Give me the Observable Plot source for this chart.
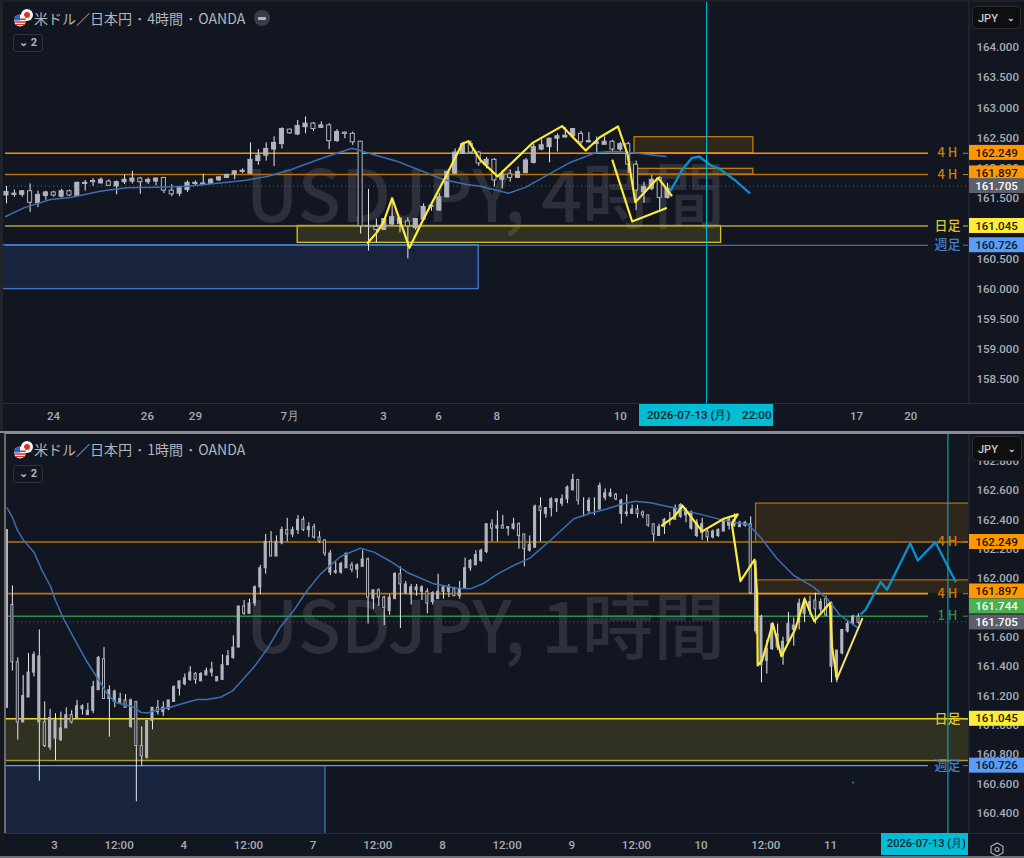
<!DOCTYPE html>
<html><head><meta charset="utf-8">
<script src="https://cdn.jsdelivr.net/npm/d3@7"></script>
<script src="https://cdn.jsdelivr.net/npm/@observablehq/plot@0.6"></script>
<style>
html,body{margin:0;padding:0;background:#121621;}
#page{position:relative;width:1024px;height:858px;overflow:hidden;background:#121621;font-family:"Noto Sans CJK JP",Roboto,sans-serif;}
#page>div{position:absolute;}
.pane{left:0;}
.pane svg{display:block;}
.title{left:34px;color:#b2b5be;font-size:14px;line-height:18px;white-space:nowrap;word-spacing:1px;}
.minus{left:254px;width:16px;height:16px;border-radius:8px;background:#3a3d47;}
.minus i{position:absolute;left:4px;top:6.5px;width:8px;height:3px;border-radius:1px;background:#b2b5be;}
.count{left:13px;width:28px;height:16px;border:1px solid #2e323c;border-radius:3px;color:#b2b5be;font:bold 11px/16px Roboto;text-align:center;}
.ccy{background:#0f0f0f;border:1px solid #2a2d33;border-radius:4px;color:#c8cad0;font:500 11px Roboto;box-sizing:border-box;}
.ccy span{position:absolute;left:5px;top:50%;transform:translateY(-50%);}
.ccy b{position:absolute;right:5px;top:50%;transform:translateY(-55%);font:bold 9px Roboto;}
.stamp{background:#00bcd4;color:#10242c;font:500 11.6px/22px Roboto;white-space:nowrap;}
</style></head><body><div id="page"></div>
<script>
// ---- 4-hour pane: [open, high, low, close]; close below open is drawn hollow
const candles4h = [
[161.55,161.70,161.41,161.61],[161.56,161.64,161.52,161.58],[161.56,161.63,161.52,161.62],[161.62,161.74,161.27,161.43],
[161.42,161.62,161.35,161.56],[161.54,161.62,161.47,161.60],[161.60,161.62,161.52,161.55],[161.53,161.65,161.51,161.62],
[161.62,161.64,161.53,161.55],[161.54,161.77,161.53,161.76],[161.74,161.80,161.62,161.76],[161.77,161.83,161.70,161.79],
[161.75,161.84,161.74,161.81],[161.78,161.81,161.70,161.71],[161.70,161.79,161.56,161.77],[161.77,161.89,161.73,161.81],
[161.78,161.95,161.74,161.83],[161.83,161.85,161.57,161.77],[161.77,161.84,161.73,161.81],[161.78,161.84,161.71,161.83],
[161.84,161.85,161.58,161.63],[161.63,161.73,161.53,161.57],[161.58,161.70,161.53,161.67],[161.64,161.79,161.60,161.76],
[161.74,161.79,161.71,161.76],[161.73,161.90,161.71,161.75],[161.74,161.83,161.73,161.81],[161.80,161.86,161.78,161.85],
[161.84,161.90,161.83,161.89],[161.90,161.96,161.81,161.95],[161.94,161.99,161.91,161.96],[161.91,162.42,161.90,162.14],
[162.12,162.31,162.05,162.21],[162.21,162.42,162.12,162.32],[162.31,162.52,162.03,162.42],[162.40,162.67,162.32,162.65],
[162.64,162.65,162.56,162.58],[162.56,162.79,162.54,162.70],[162.68,162.85,162.57,162.74],[162.74,162.76,162.61,162.65],
[162.67,162.77,162.66,162.71],[162.71,162.74,162.31,162.45],[162.45,162.64,162.43,162.60],[162.59,162.60,162.49,162.57],
[162.57,162.60,162.38,162.43],[162.44,162.44,160.91,161.04],[161.04,161.65,160.63,161.03],[161.03,161.16,160.76,160.98],
[160.98,161.16,160.97,161.16],[161.07,161.49,161.05,161.19],[161.08,161.17,160.93,161.17],[161.12,161.18,160.50,161.04],
[161.01,161.16,160.97,161.16],[161.15,161.41,161.12,161.36],[161.36,161.42,161.29,161.38],[161.30,161.58,161.29,161.52],
[161.52,161.95,161.51,161.94],[161.91,162.32,161.90,162.26],[162.24,162.43,162.23,162.40],[162.40,162.45,162.24,162.26],
[162.26,162.28,162.03,162.08],[162.05,162.18,161.99,162.14],[162.14,162.16,161.69,161.80],[161.81,161.96,161.66,161.90],
[161.90,161.97,161.77,161.84],[161.84,162.02,161.83,161.94],[161.92,162.16,161.91,162.13],[162.09,162.40,162.07,162.35],
[162.31,162.47,162.29,162.38],[162.35,162.50,162.09,162.49],[162.49,162.57,162.27,162.53],[162.51,162.67,162.50,162.54],
[162.53,162.66,162.51,162.65],[162.57,162.61,162.35,162.43],[162.43,162.59,162.42,162.45],[162.40,162.52,162.26,162.43],
[162.39,162.52,162.38,162.44],[162.44,162.46,162.27,162.31],[162.31,162.43,162.28,162.40],[162.40,162.43,161.91,162.06],
[162.06,162.12,161.30,161.63],[161.60,161.77,161.42,161.69],[161.66,161.88,161.63,161.81],[161.84,161.86,161.30,161.51],
[161.51,161.75,161.49,161.66]];
// [bar, price]
const ema4h = [[-0.1,161.202],[2.2,161.345],[5.6,161.483],[8.3,161.522],[11.9,161.621],[15.3,161.677],[19.1,161.688],[23,161.704],[26.8,161.754],[30.2,161.798],[33.1,161.864],[36.1,161.975],[39.9,162.157],[43.9,162.333],[45.8,162.256],[49.6,162.118],[52.6,161.963],[55.6,161.809],[58.5,161.732],[60.2,161.704],[63.8,161.588],[66,161.688],[69,161.908],[71.7,162.101],[74.8,162.256],[77,162.284],[79.6,162.256],[83.8,162.195]];
const drawn4hA = [[45.9,160.766],[47.1,160.943],[47.9,161.108],[49,161.505],[51.2,160.683],[53,161.163],[56,161.908],[57.9,162.405],[58.7,162.449],[60.2,162.14],[62.4,161.864],[66.8,162.416],[70.6,162.698],[73.6,162.295],[75.4,162.515],[77.7,162.692],[78.9,162.239],[79.9,161.439],[82.8,161.842],[84.5,161.55]];
const drawn4hB = [[77,162.129],[79.5,161.119],[83.8,161.34]];
const forecast4h = [[84.4,161.632],[85.8,161.963],[87.1,162.173],[88,162.195],[89.5,162.046],[90.6,161.991],[92.6,161.798],[94.4,161.594]];
const ticksX4h = [5.97,17.9,24,36,47.9,54.9,62.3,78,108,114.9];
const labelsX4h = ["24","26","29","7月","3","6","8","10","17","20"];
const ticksY4h = [158.5,159,159.5,160,160.5,161,161.5,162,162.5,163,163.5,164];

// ---- 1-hour pane
const candles1h = [
[161.12,162.33,161.12,162.33],[161.82,161.95,161.37,161.43],[161.43,161.46,160.90,161.02],[161.02,161.34,161.02,161.20],
[161.19,161.49,161.19,161.36],[161.36,161.50,161.33,161.48],[161.02,161.65,160.62,161.47],[161.02,161.16,160.85,160.86],
[160.85,161.11,160.83,161.05],[160.91,161.08,160.76,161.03],[160.90,161.09,160.89,160.98],[160.98,161.12,160.98,161.07],
[161.07,161.10,161.01,161.02],[161.05,161.17,161.05,161.13],[161.11,161.14,161.07,161.13],[161.07,161.15,161.07,161.10],
[161.10,161.30,161.08,161.26],[161.24,161.47,161.24,161.46],[161.45,161.53,161.18,161.18],[161.18,161.27,160.92,161.24],
[161.16,161.24,161.12,161.23],[161.15,161.22,161.14,161.18],[161.17,161.21,161.12,161.12],[160.99,161.18,160.98,161.17],
[161.16,161.16,160.48,160.86],[160.86,160.99,160.72,160.79],[160.78,161.03,160.77,161.03],[161.03,161.12,160.97,161.12],
[161.12,161.17,161.07,161.09],[161.09,161.16,161.06,161.12],[161.11,161.17,161.10,161.17],[161.16,161.27,161.16,161.26],
[161.25,161.30,161.20,161.30],[161.28,161.35,161.27,161.32],[161.31,161.40,161.30,161.36],[161.35,161.36,161.28,161.31],
[161.30,161.36,161.30,161.35],[161.34,161.39,161.34,161.37],[161.36,161.43,161.33,161.38],[161.30,161.33,161.30,161.33],
[161.31,161.48,161.31,161.41],[161.41,161.51,161.41,161.47],[161.46,161.61,161.45,161.53],[161.53,161.81,161.53,161.81],
[161.81,161.85,161.75,161.76],[161.76,161.86,161.76,161.83],[161.83,161.95,161.81,161.94],[161.94,162.09,161.89,162.07],
[162.07,162.30,162.03,162.25],[162.25,162.32,162.15,162.15],[162.15,162.29,162.15,162.25],[162.24,162.35,162.23,162.33],
[162.33,162.41,162.25,162.30],[162.30,162.35,162.28,162.33],[162.33,162.43,162.30,162.40],[162.40,162.42,162.32,162.33],
[162.33,162.38,162.28,162.35],[162.35,162.37,162.27,162.28],[162.28,162.32,162.24,162.25],[162.26,162.26,162.15,162.17],
[162.04,162.19,162.02,162.17],[162.04,162.11,162.03,162.05],[162.04,162.11,162.03,162.10],[162.07,162.17,162.07,162.17],
[162.09,162.11,162.04,162.06],[162.06,162.10,162.00,162.09],[162.08,162.19,162.08,162.13],[162.13,162.14,161.69,161.87],
[161.86,161.92,161.79,161.92],[161.92,161.93,161.81,161.87],[161.87,161.88,161.68,161.80],[161.78,161.89,161.75,161.87],
[161.86,162.04,161.86,162.03],[162.03,162.08,161.66,161.96],[161.90,161.98,161.89,161.96],[161.89,161.96,161.82,161.94],
[161.92,161.96,161.88,161.94],[161.91,161.95,161.85,161.94],[161.91,161.93,161.76,161.83],[161.84,161.91,161.82,161.90],
[161.86,162.03,161.86,161.91],[161.91,161.95,161.86,161.94],[161.91,161.96,161.87,161.94],[161.93,161.94,161.88,161.88],
[161.88,161.98,161.86,161.93],[161.93,162.14,161.93,162.07],[162.07,162.13,162.05,162.12],[162.09,162.19,162.09,162.16],
[162.12,162.20,162.11,162.19],[162.18,162.37,162.17,162.37],[162.37,162.40,162.25,162.34],[162.34,162.46,162.25,162.36],
[162.36,162.43,162.34,162.34],[162.34,162.35,162.29,162.35],[162.34,162.41,162.33,162.37],[162.37,162.38,162.20,162.29],
[162.30,162.30,162.08,162.20],[162.19,162.29,162.18,162.23],[162.21,162.50,162.21,162.49],[162.49,162.55,162.25,162.46],
[162.44,162.48,162.41,162.48],[162.48,162.55,162.42,162.54],[162.52,162.54,162.45,162.54],[162.51,162.57,162.49,162.54],
[162.54,162.63,162.51,162.62],[162.60,162.71,162.60,162.67],[162.67,162.67,162.50,162.53],[162.53,162.55,162.42,162.53],
[162.46,162.55,162.44,162.53],[162.47,162.55,162.43,162.47],[162.47,162.65,162.47,162.63],[162.55,162.61,162.53,162.58],
[162.56,162.61,162.55,162.58],[162.57,162.58,162.53,162.54],[162.44,162.54,162.37,162.53],[162.44,162.57,162.42,162.45],
[162.44,162.50,162.44,162.47],[162.47,162.50,162.41,162.44],[162.45,162.46,162.41,162.43],[162.43,162.43,162.35,162.36],
[162.37,162.37,162.25,162.30],[162.29,162.37,162.29,162.35],[162.35,162.41,162.30,162.40],[162.40,162.45,162.36,162.40],
[162.40,162.50,162.40,162.48],[162.42,162.51,162.41,162.50],[162.43,162.48,162.38,162.46],[162.34,162.46,162.33,162.45],
[162.29,162.40,162.28,162.38],[162.31,162.41,162.26,162.37],[162.32,162.33,162.25,162.28],[162.28,162.33,162.27,162.32],
[162.29,162.34,162.28,162.33],[162.32,162.41,162.32,162.39],[162.36,162.41,162.33,162.40],[162.36,162.44,162.35,162.40],
[162.35,162.39,162.35,162.38],[162.36,162.39,162.35,162.38],[162.37,162.42,161.89,161.90],[161.64,162.12,161.62,162.06],
[161.41,161.75,161.29,161.74],[161.44,161.58,161.35,161.52],[161.52,161.70,161.51,161.69],[161.53,161.69,161.51,161.62],
[161.47,161.60,161.41,161.57],[161.57,161.77,161.56,161.69],[161.65,161.73,161.54,161.68],[161.70,161.86,161.65,161.83],
[161.76,161.87,161.70,161.82],[161.78,161.88,161.75,161.84],[161.85,161.90,161.69,161.79],[161.79,161.86,161.77,161.84],
[161.86,161.88,161.74,161.75],[161.40,161.84,161.29,161.83],[161.33,161.51,161.29,161.51],[161.49,161.65,161.48,161.65],
[161.64,161.71,161.63,161.69],[161.69,161.75,161.68,161.74],[161.74,161.76,161.69,161.70]];
const ema1h = [[0,162.482],[1,162.418],[1.9,162.332],[3.1,162.259],[5,162.18],[6.5,162.055],[8.1,161.946],[9,161.851],[10.5,161.726],[13,161.555],[14.9,161.43],[16.7,161.328],[18.6,161.215],[20.1,161.158],[21.7,161.142],[23.5,161.124],[24.8,161.09],[26,161.085],[27.9,161.106],[30.3,161.124],[32.8,161.151],[35.3,161.176],[37.1,161.176],[39.6,161.192],[41.8,161.233],[43.6,161.306],[45.8,161.396],[48.3,161.521],[50.7,161.669],[53.2,161.782],[55.7,161.919],[58.2,162.032],[61.9,162.15],[65.6,162.207],[68.1,162.18],[71.1,162.118],[74.2,162.043],[79.2,161.964],[83.5,161.934],[86,161.93],[88.5,161.968],[90.9,162.028],[94,162.089],[97.1,162.141],[100.8,162.259],[105.2,162.407],[108.3,162.445],[111.4,162.475],[114.4,162.509],[116.6,162.527],[119.4,162.516],[123.7,162.482],[126.2,162.459],[128.7,162.437],[133.6,162.391],[137.6,162.368],[139.8,162.282],[142.9,162.135],[146,162.021],[149.7,161.942],[152.2,161.862],[154.6,161.749],[157.7,161.669]];
const drawn1h = [[121.55,162.362],[123.7,162.418],[125,162.475],[125.3,162.498],[129,162.321],[133,162.407],[135.6,162.437],[134.5,162.373],[136.1,161.982],[138.7,162.128],[139.2,161.896],[139.3,161.408],[140.1,161.442],[142.1,161.692],[143.7,161.471],[146.3,161.658],[148,161.862],[149.8,161.71],[152.7,161.833],[153.1,161.533],[154,161.317]];
const drawn1hTail = [[154,161.317],[158.7,161.726]];
const forecast1h = [[158.5,161.76],[159.3,161.787],[162.1,161.976],[163.3,161.923],[167.6,162.241],[169,162.123],[172.3,162.248],[174.7,162.073],[176,161.982]];
const strayDot1h = [[157,160.611]];
const ticksX1h = [8.8,20.8,32.8,44.8,56.8,68.8,80.8,92.8,104.8,116.8,128.8,140.8,152.8];
const labelsX1h = ["3","12:00","4","12:00","7","12:00","8","12:00","9","12:00","10","12:00","11"];
const ticksY1h = [160.4,160.6,160.8,161,161.2,161.4,161.6,161.8,162,162.2,162.4,162.6,162.8];

// price tags on the right axis: value, level the tag is centred on
const tagValues4h = [162.249,161.897,161.705,161.045,160.726];
const tagLevels4h = [162.255,161.915,161.705,161.045,160.726];
const tagValues1h = [162.249,161.897,161.744,161.705,161.045,160.726];
const tagLevels1h = [162.249,161.912,161.81,161.701,161.045,160.726];

const BG = "#121621";
const tagStyle = {162.249:["#ff9800","#1c1206"],161.897:["#ff9800","#1c1206"],161.744:["#4caf50","#f4fff4"],161.705:["#5d606b","#ffffff"],161.045:["#ffeb3b","#1a1a08"],160.726:["#5b9cf6","#0a1830"]};

function panel(cfg){
  const {x0,step,yDomain,height}=cfg;
  const bar=px=>(px-x0)/step;                      // bar index under a pixel column
  const plotH=height-25;
  const pxPerUnit=plotH/(yDomain[1]-yDomain[0]);
  const rows=cfg.candles.map((r,i)=>({i,o:r[0],h:r[1],l:r[2],c:r[3]}));
  const hw=cfg.bodyHalf;
  const body=(data,fill)=>Plot.rect(data,{x1:d=>d.i-hw,x2:d=>d.i+hw,y1:d=>Math.min(d.o,d.c),y2:d=>Math.max(d.o,d.c),fill,stroke:"#b2b5be",strokeWidth:1});
  const line=(pts,stroke,strokeWidth)=>Plot.line(pts,{x:d=>d[0],y:d=>d[1],stroke,strokeWidth,strokeLinejoin:"round",strokeLinecap:"round"});
  const tagData=cfg.tagValues.map((v,i)=>({v,at:cfg.tagLevels[i]}));
  const xLabel=new Map(cfg.ticksX.map((t,i)=>[t,cfg.labelsX[i]]));
  return Plot.plot({
    width:1024,height,marginLeft:0,marginRight:56,marginTop:0,marginBottom:25,
    style:{background:"transparent",fontFamily:"Roboto, sans-serif"},
    x:{type:"linear",domain:[bar(0),bar(1024)],range:[0,1024]},
    y:{type:"linear",domain:yDomain,range:[plotH,0]},
    marks:[
      Plot.text([cfg.watermark],{x:bar(485),y:cfg.watermarkLevel,text:d=>d,fontSize:71.5,fontFamily:"Noto Sans CJK JP",fontWeight:500,fill:"#2d303a",textAnchor:"middle"}),
      ...cfg.under(bar),
      Plot.ruleY([cfg.last],{x1:bar(5),x2:bar(968),stroke:"#5a5d66",strokeDasharray:"1,3"}),
      Plot.ruleX(rows,{x:"i",y1:"l",y2:"h",stroke:"#e8e9ec",strokeWidth:1}),
      body(rows.filter(d=>d.c>=d.o),"#b2b5be"),
      body(rows.filter(d=>d.c<d.o),BG),
      line(cfg.ema,"#3b6fb3",1.5),
      ...cfg.over(bar,line),
      Plot.ruleX([cfg.cursor],{y1:yDomain[0],y2:yDomain[1],stroke:"#00bcd4",strokeWidth:1}),
      Plot.ruleX([bar(968.5)],{y1:yDomain[0],y2:yDomain[1],stroke:"#2a2e39"}),
      Plot.ruleY([yDomain[0]],{x1:bar(0),x2:bar(1024),stroke:"#2a2e39"}),
      Plot.axisY({anchor:"right",ticks:cfg.ticksY,tickSize:0,tickPadding:8,tickFormat:d=>d.toFixed(3),fontSize:11.5,fontWeight:500,color:"#a9acb5",label:null}),
      Plot.axisX({anchor:"bottom",ticks:cfg.ticksX,tickSize:0,tickPadding:cfg.xPad,tickFormat:d=>xLabel.get(d),fontSize:11.5,fontWeight:500,color:"#a9acb5",label:null}),
      ...["#ff9800","#4caf50","#5d606b","#ffeb3b","#5b9cf6"].map(col=>{
        const sel=tagData.filter(d=>tagStyle[d.v][0]===col);
        return [
          Plot.rect(sel,{x1:bar(969),x2:bar(1024),y1:d=>d.at-7.5/pxPerUnit,y2:d=>d.at+7.5/pxPerUnit,fill:col}),
          Plot.text(sel,{x:bar(996),y:"at",text:d=>d.v.toFixed(3),fill:sel.length?tagStyle[sel[0].v][1]:"#000",fontSize:11.5,fontWeight:500})
        ];
      }).flat()
    ]
  });
}
function levelLabels(bar,items){
  return items.flatMap(([level,label,color])=>[
    Plot.text([level],{x:bar(947),y:d=>d,text:()=>label,fill:color,fontSize:13,fontFamily:"Noto Sans CJK JP",fontWeight:500}),
    Plot.ruleY([level],{x1:bar(963),x2:bar(968),stroke:color})
  ]);
}
const top4h=panel({
  x0:6,step:7.87,yDomain:[158.106,164.778],height:428,bodyHalf:0.26,xPad:8,candles:candles4h,ema:ema4h,last:161.705,cursor:88.95,
  watermark:"USDJPY, 4時間",watermarkLevel:161.49,ticksX:ticksX4h,labelsX:labelsX4h,ticksY:ticksY4h,tagValues:tagValues4h,tagLevels:tagLevels4h,
  under:bar=>[
    Plot.rect([[bar(0),60,160.726,160]],{x1:d=>d[0],x2:d=>d[1],y1:d=>d[2],y2:d=>d[3],fill:"rgba(60,120,220,0.15)",stroke:"#3f77c4",strokeWidth:1.4}),
    Plot.rect([[37,90.8,161.045,160.766]],{x1:d=>d[0],x2:d=>d[1],y1:d=>d[2],y2:d=>d[3],fill:"rgba(240,220,40,0.14)",stroke:"#d4c22a",strokeWidth:1.3}),
    Plot.rect([[79.8,94.9,162.515,162.249],[79.8,94.9,161.991,161.897]],{x1:d=>d[0],x2:d=>d[1],y1:d=>d[2],y2:d=>d[3],fill:"rgba(255,152,0,0.13)",stroke:"#c47a0c",strokeWidth:1.3}),
    Plot.ruleY([162.249],{x1:bar(5),x2:bar(928),stroke:"#f59200",strokeWidth:1.5}),
    Plot.ruleY([161.897],{x1:bar(5),x2:bar(928),stroke:"#b86f0a",strokeWidth:1.5}),
    Plot.ruleY([161.045],{x1:bar(5),x2:bar(928),stroke:"#b0a02c",strokeWidth:1.4}),
    Plot.ruleY([160.726],{x1:bar(5),x2:bar(928),stroke:"#4f88d6",strokeWidth:1.2})
  ],
  over:(bar,line)=>[
    line(drawn4hA,"#ffeb3b",2.2),line(drawn4hB,"#ffeb3b",2.2),line(forecast4h,"#0a8fd0",2.3),
    ...levelLabels(bar,[[162.249,"4 H","#c87d10"],[161.897,"4 H","#c87d10"],[161.045,"日足","#d9c52c"],[160.726,"週足","#4a7fc8"]])
  ]
});
const bottom1h=panel({
  x0:6.5,step:5.389,yDomain:[160.264,162.981],height:424,bodyHalf:0.19,xPad:7,candles:candles1h,ema:ema1h,last:161.705,cursor:174.6,
  watermark:"USDJPY, 1時間",watermarkLevel:161.646,ticksX:ticksX1h,labelsX:labelsX1h,ticksY:ticksY1h,tagValues:tagValues1h,tagLevels:tagLevels1h,
  under:bar=>[
    Plot.rect([[bar(5),59,160.726,160.264]],{x1:d=>d[0],x2:d=>d[1],y1:d=>d[2],y2:d=>d[3],fill:"rgba(60,120,220,0.15)"}),
    Plot.ruleX([59],{y1:160.264,y2:160.726,stroke:"#3f77c4",strokeWidth:1.3}),
    Plot.rect([[bar(5),bar(968),161.045,160.761]],{x1:d=>d[0],x2:d=>d[1],y1:d=>d[2],y2:d=>d[3],fill:"rgba(240,220,40,0.14)"}),
    Plot.rect([[138.9,bar(968),162.514,162.249],[138.9,bar(968),161.991,161.897]],{x1:d=>d[0],x2:d=>d[1],y1:d=>d[2],y2:d=>d[3],fill:"rgba(255,152,0,0.13)"}),
    Plot.ruleX([138.9],{y1:162.249,y2:162.514,stroke:"#b06a0a",strokeWidth:1.3}),
    Plot.ruleY([162.514],{x1:138.9,x2:bar(968),stroke:"#b06a0a",strokeWidth:1.3}),
    Plot.ruleY([161.991],{x1:138.9,x2:bar(968),stroke:"#a86a18",strokeWidth:1.3}),
    Plot.ruleY([162.249],{x1:bar(5),x2:bar(968),stroke:"#b8700f",strokeWidth:1.7}),
    Plot.ruleY([161.897],{x1:bar(5),x2:138.9,stroke:"#b8700f",strokeWidth:1.7}),
    Plot.ruleY([161.897],{x1:138.9,x2:bar(928),stroke:"#ff9800",strokeWidth:1.8}),
    Plot.ruleY([161.744],{x1:bar(5),x2:bar(928),stroke:"#2f8f46",strokeWidth:1.5}),
    Plot.ruleY([161.045],{x1:bar(5),x2:bar(968),stroke:"#ecd820",strokeWidth:1.4}),
    Plot.ruleY([160.761],{x1:bar(5),x2:bar(968),stroke:"#a8992c",strokeWidth:1.6}),
    Plot.ruleY([160.726],{x1:bar(5),x2:bar(928),stroke:"#5b9cf6",strokeWidth:1.2})
  ],
  over:(bar,line)=>[
    line(drawn1h,"#ffeb3b",2.2),line(drawn1hTail,"#f3e27c",2),line(forecast1h,"#0a8fd0",2.3),
    Plot.dot(strayDot1h,{x:d=>d[0],y:d=>d[1],r:1,fill:"#0a8fd0"}),
    ...levelLabels(bar,[[162.249,"4 H","#c87d10"],[161.897,"4 H","#c87d10"],[161.744,"1 H","#2f8f46"],[161.045,"日足","#d9c52c"],[160.726,"週足","#4a7fc8"]])
  ]
});

const page=document.getElementById("page");
function add(css,html,cls){const d=document.createElement("div");d.style.cssText=css;if(cls)d.className=cls;if(html)d.innerHTML=html;page.appendChild(d);return d;}
const a=add("top:0;","", "pane");a.appendChild(top4h);
const b=add("top:434px;","", "pane");b.appendChild(bottom1h);
// frame strips
add("left:0;top:0;width:3px;height:431px;background:#20232a;");
add("left:0;top:0;width:1024px;height:2px;background:#1e2027;");
add("left:0;top:431px;width:1024px;height:2.5px;background:#8b8c90;");
add("left:4px;top:433px;width:1.5px;height:400px;background:#6a6c72;");
add("left:0;top:433px;width:4px;height:425px;background:#16181f;");
add("left:0;top:856px;width:1024px;height:2px;background:#6f7075;");
// headers
const flag=`<svg width="22" height="20" viewBox="0 0 22 20"><circle cx="15" cy="7" r="6" fill="#f4f4f4"/><circle cx="15" cy="7" r="3" fill="#d8342c"/><circle cx="8" cy="12.5" r="6" fill="#f2f2f2"/><path d="M2.3 10.5h11.4v1.4H2.300zM2 13.300h12v1.400H2zM3.400 16h9.200v1.300H3.400z" fill="#d8342c"/><path d="M2.300 10.500A6 6 0 0 1 8 6.500V12.500H2z" fill="#2c63c6"/></svg>`;
add("left:12px;top:8px;",flag);
add("top:9px;","米ドル／日本円 ･ 4時間 ･ OANDA","title");
add("top:10px;","<i></i>","minus");
add("top:34px;","⌄ 2","count");
add("left:12px;top:440px;",flag);
add("top:440px;","米ドル／日本円 ･ 1時間 ･ OANDA","title");
add("top:465px;","⌄ 2","count");
add("left:972px;top:6px;width:49px;height:23px;","<span>JPY</span><b>⌄</b>","ccy");
add("left:972px;top:436px;width:50px;height:25px;","<span>JPY</span><b>⌄</b>","ccy");
add("left:639px;top:404px;width:134px;height:22px;text-indent:8px;","2026-07-13 (月)&nbsp;&nbsp;&nbsp;&nbsp;22:00","stamp");
add("left:881px;top:833px;width:87px;height:22px;text-indent:6px;font-size:11px;","2026-07-13 (月)","stamp");
add("left:990px;top:838px;",`<svg width="14" height="15" viewBox="0 0 14 15"><path d="M7 1l6 3.300v6.400L7 14 1 10.700V4.300z" fill="none" stroke="#a9acb5" stroke-width="1.200"/><circle cx="7" cy="7.500" r="2" fill="none" stroke="#a9acb5" stroke-width="1.200"/></svg>`);
</script></body></html>
